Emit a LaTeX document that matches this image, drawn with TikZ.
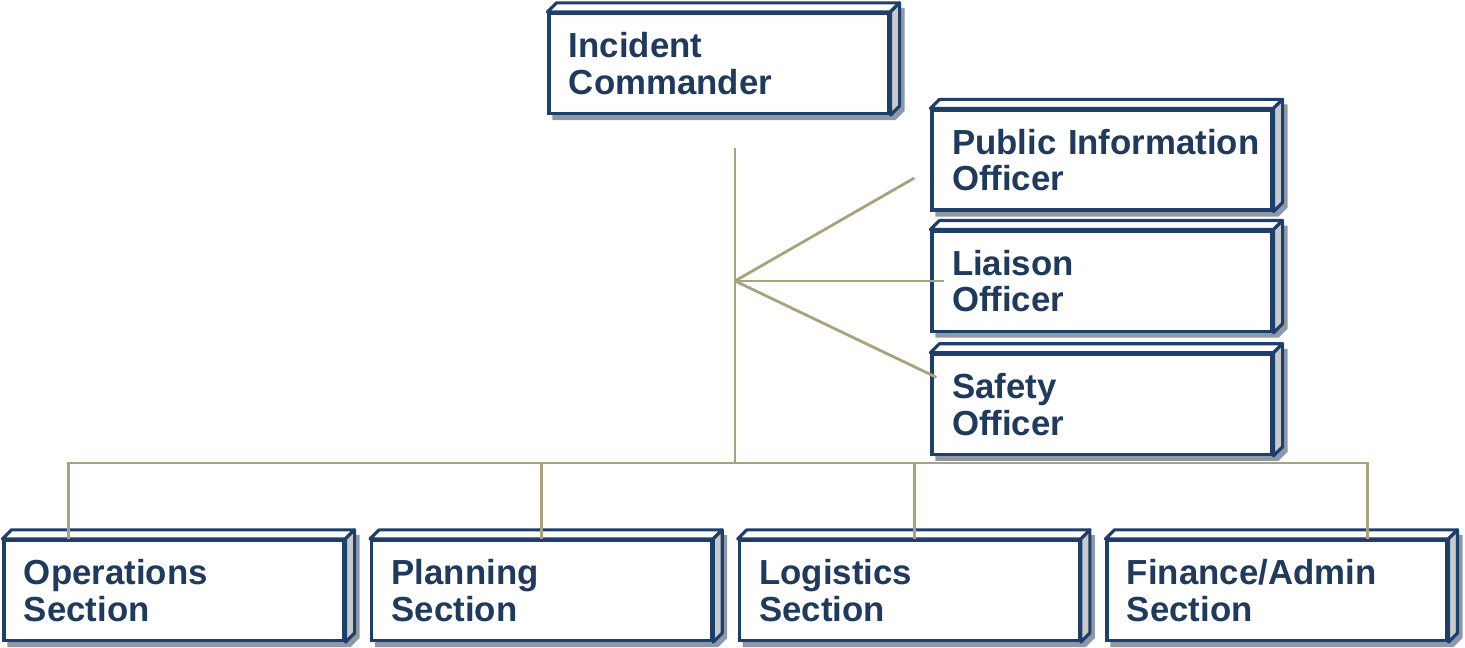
\documentclass[tikz,border=0pt]{standalone}
\usepackage{fontspec}
\setmainfont{Liberation Sans}
\usepackage{xcolor}
\usepackage{tikz}
\usetikzlibrary{positioning, backgrounds}
\definecolor{navy}{HTML}{1F3F6B}
\definecolor{inktext}{HTML}{1F3A5C}
\definecolor{khaki}{HTML}{A8A37C}
\definecolor{sidegray}{HTML}{C9CACC}
\definecolor{shadowgray}{HTML}{8E99A5}
\tikzstyle{unit} = [rectangle, minimum height=1cm, text width=3.0cm, inner xsep=0.2cm, align=left, draw=navy, line width=0.9pt, fill=white, text=inktext, font=\fontsize{9.9}{10.4}\selectfont\bfseries]
\tikzstyle{face} = [draw=navy, line width=0.9pt, line join=round]
\tikzstyle{link} = [draw=khaki, line width=0.8pt]

\begin{document}
\begin{tikzpicture}[node distance=0.245cm]
    \useasboundingbox (0,0) rectangle (14.65,-6.48);
    \node (ic) [unit] at (7.19,-0.635) {Incident\\Commander};
    \node (pio) [unit] at (11.02,-1.60) {\mbox{Public Information}\\Officer};
    \node (lo) [unit, below=0.18cm of pio] {Liaison\\Officer};
    \node (so) [unit, below=0.2cm of lo] {Safety\\Officer};
    \node (ops) [unit] at (1.74,-5.905) {Operations\\Section};
    \node (plan) [unit, right=of ops] {Planning\\Section};
    \node (log) [unit, right=of plan] {Logistics\\Section};
    \node (fin) [unit, right=of log] {Finance/Admin\\Section};

    % 3d look: shadow behind, top and side faces
    \begin{pgfonlayer}{background}
    \foreach \n in {ic,pio,lo,so,ops,plan,log,fin}
        \fill[shadowgray] ([shift={(0.05,-0.05)}]\n.south west) -- ([shift={(0.05,-0.05)}]\n.north west)
            -- ([shift={(0.14,0.04)}]\n.north east) -- ([shift={(0.14,0.04)}]\n.south east)
            -- ([shift={(0.05,-0.05)}]\n.south east) -- cycle;
    \end{pgfonlayer}
    \foreach \n in {ic,pio,lo,so,ops,plan,log,fin} {
        \draw[face, fill=white] (\n.north west) -- ++(0.09,0.09) -- ([shift={(0.09,0.09)}]\n.north east) -- (\n.north east) -- cycle;
        \draw[face, fill=sidegray] (\n.north east) -- ++(0.09,0.09) -- ([shift={(0.09,0.09)}]\n.south east) -- (\n.south east) -- cycle;
    }

    \coordinate (top) at (7.35,-1.48);
    \coordinate (hub) at (7.35,-2.81);
    \coordinate (bar) at (7.35,-4.63);

    \draw [link] (top) -- (bar);
    \draw [link] (hub) -- ([shift={(-0.16,-0.18)}]pio.west);
    \draw [link] (hub) -- ([xshift=0.14cm]lo.west |- hub);
    \draw [link] (hub) -- ([shift={(0.06,0.27)}]so.west);
    \draw [link] ([xshift=0.66cm]ops.north west) |- (bar) -| ([xshift=-0.81cm]fin.north east);
    \draw [link] (plan.north) -- (plan.north |- bar);
    \draw [link] ([xshift=0.05cm]log.north) -- ([xshift=0.05cm]log.north |- bar);
\end{tikzpicture}
\end{document}
